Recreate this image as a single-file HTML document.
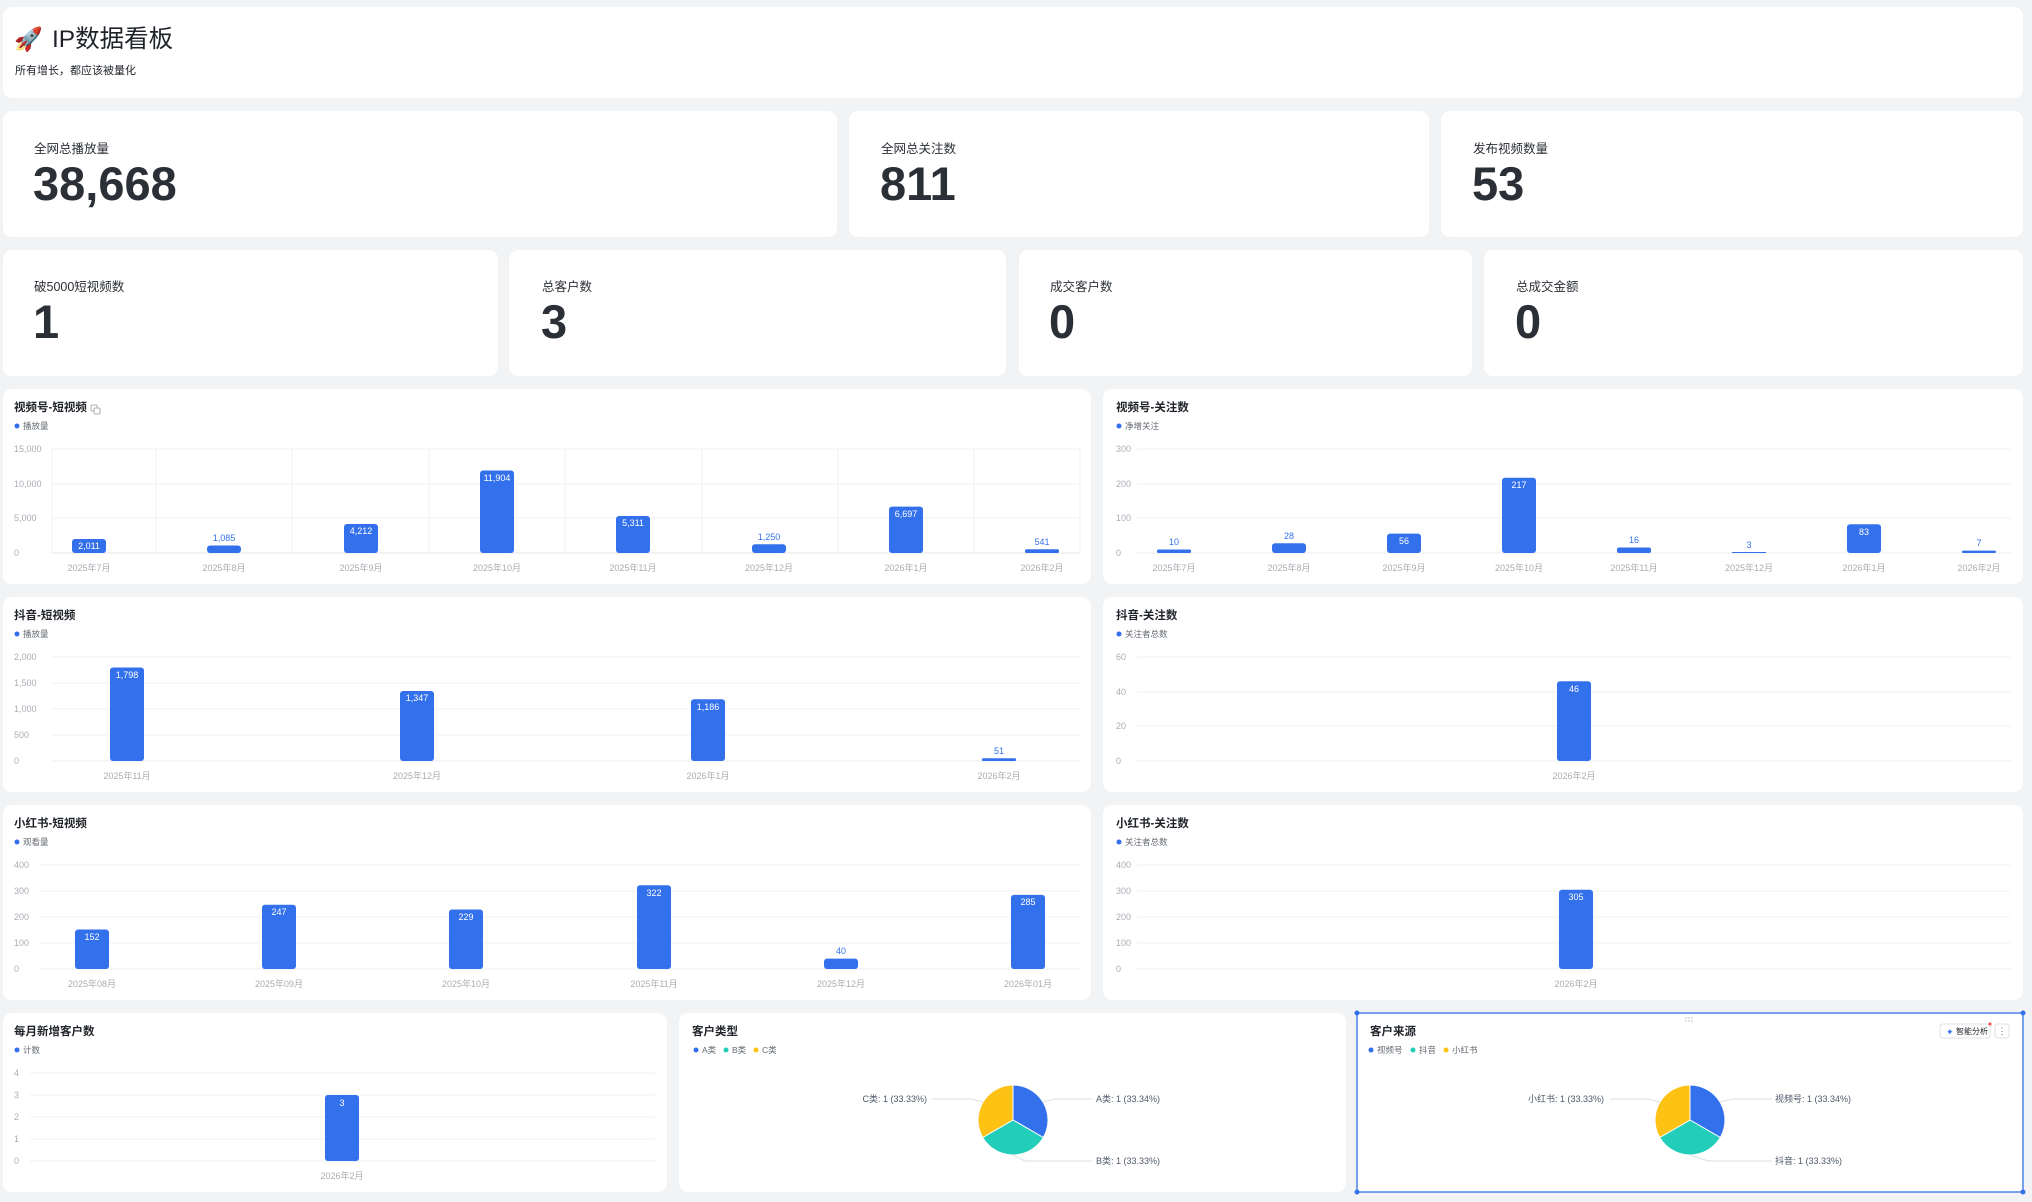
<!DOCTYPE html>
<html><head><meta charset="utf-8"><style>
html,body{margin:0;padding:0;background:#f2f3f5;}
svg{display:block;font-family:"Liberation Sans","Noto Sans CJK SC",sans-serif;}
.card{fill:#fff;}
.t{font-size:11.5px;font-weight:bold;fill:#1f2329;}
.lg{font-size:8.5px;fill:#646a73;}
.tk{font-size:9px;fill:#a8adb4;}
.xl{font-size:9px;fill:#a8adb4;text-anchor:middle;}
.g{stroke:#f0f1f3;stroke-width:1;}
.b{fill:#3370eb;}
.vi{font-size:9px;fill:#fff;text-anchor:middle;}
.vo{font-size:9px;fill:#3370eb;text-anchor:middle;}
.kl{font-size:12.5px;fill:#2b2f36;}
.kn{font-size:47px;font-weight:bold;fill:#2b2f36;}
.pl{font-size:9px;fill:#4e5969;}
.ll{stroke:#dcdee2;fill:none;stroke-width:1;}
</style></head><body>
<svg width="2032" height="1202" viewBox="0 0 2032 1202" xmlns="http://www.w3.org/2000/svg">
<rect width="2032" height="1202" fill="#f2f3f5"/>
<rect class="card" x="3" y="7" width="2020" height="91" rx="9"/>
<text x="14" y="47" font-size="23">🚀</text>
<text x="52" y="47" font-size="24.5" fill="#1f2329">IP数据看板</text>
<text x="15" y="74" font-size="11" fill="#1f2329">所有增长，都应该被量化</text>
<rect class="card" x="3" y="111" width="834" height="126" rx="9"/>
<rect class="card" x="849" y="111" width="580" height="126" rx="9"/>
<rect class="card" x="1441" y="111" width="582" height="126" rx="9"/>
<text class="kl" x="34" y="153">全网总播放量</text><text class="kn" x="33" y="200">38,668</text>
<text class="kl" x="881" y="153">全网总关注数</text><text class="kn" x="880" y="200">811</text>
<text class="kl" x="1473" y="153">发布视频数量</text><text class="kn" x="1472" y="200">53</text>
<rect class="card" x="3" y="250" width="495" height="126" rx="9"/>
<rect class="card" x="509" y="250" width="497" height="126" rx="9"/>
<rect class="card" x="1019" y="250" width="453" height="126" rx="9"/>
<rect class="card" x="1484" y="250" width="539" height="126" rx="9"/>
<text class="kl" x="34" y="291">破5000短视频数</text><text class="kn" x="33" y="338">1</text>
<text class="kl" x="542" y="291">总客户数</text><text class="kn" x="541" y="338">3</text>
<text class="kl" x="1050" y="291">成交客户数</text><text class="kn" x="1049" y="338">0</text>
<text class="kl" x="1516" y="291">总成交金额</text><text class="kn" x="1515" y="338">0</text>

<rect class="card" x="3" y="389" width="1088" height="195" rx="9"/>
<text class="t" x="14" y="411">视频号-短视频</text>
<rect x="91" y="405" width="6" height="6" fill="none" stroke="#999" stroke-width="0.8" rx="1"/><rect x="94" y="408" width="6" height="6" fill="#fff" stroke="#999" stroke-width="0.8" rx="1"/>
<circle cx="17" cy="426" r="2.5" fill="#3370eb"/><text class="lg" x="23" y="429">播放量</text>
<g class="g"><line x1="52" x2="1080" y1="449" y2="449"/><line x1="52" x2="1080" y1="484" y2="484"/><line x1="52" x2="1080" y1="518" y2="518"/>
<line x1="52" x2="52" y1="449" y2="553"/><line x1="156" x2="156" y1="449" y2="553"/><line x1="292" x2="292" y1="449" y2="553"/><line x1="429" x2="429" y1="449" y2="553"/><line x1="565" x2="565" y1="449" y2="553"/><line x1="702" x2="702" y1="449" y2="553"/><line x1="838" x2="838" y1="449" y2="553"/><line x1="974" x2="974" y1="449" y2="553"/><line x1="1080" x2="1080" y1="449" y2="553"/></g>
<line x1="52" x2="1080" y1="553" y2="553" stroke="#e4e5e7"/>
<text class="tk" x="14" y="452">15,000</text><text class="tk" x="14" y="487">10,000</text><text class="tk" x="14" y="521">5,000</text><text class="tk" x="14" y="556">0</text>
<rect class="b" x="72" y="539" width="34" height="14" rx="3"/><text class="vi" x="89" y="549">2,011</text>
<rect class="b" x="207" y="545.5" width="34" height="7.5" rx="3"/><text class="vo" x="224" y="541">1,085</text>
<rect class="b" x="344" y="524" width="34" height="29" rx="3"/><text class="vi" x="361" y="534">4,212</text>
<rect class="b" x="480" y="470.5" width="34" height="82.5" rx="3"/><text class="vi" x="497" y="481">11,904</text>
<rect class="b" x="616" y="516" width="34" height="37" rx="3"/><text class="vi" x="633" y="526">5,311</text>
<rect class="b" x="752" y="544.3" width="34" height="8.7" rx="3"/><text class="vo" x="769" y="540">1,250</text>
<rect class="b" x="889" y="506.6" width="34" height="46.4" rx="3"/><text class="vi" x="906" y="517">6,697</text>
<rect class="b" x="1025" y="549.2" width="34" height="3.8" rx="1.5"/><text class="vo" x="1042" y="545">541</text>
<text class="xl" x="89" y="571">2025年7月</text><text class="xl" x="224" y="571">2025年8月</text><text class="xl" x="361" y="571">2025年9月</text><text class="xl" x="497" y="571">2025年10月</text><text class="xl" x="633" y="571">2025年11月</text><text class="xl" x="769" y="571">2025年12月</text><text class="xl" x="906" y="571">2026年1月</text><text class="xl" x="1042" y="571">2026年2月</text>

<rect class="card" x="1103" y="389" width="920" height="195" rx="9"/>
<text class="t" x="1116" y="411">视频号-关注数</text>
<circle cx="1119" cy="426" r="2.5" fill="#3370eb"/><text class="lg" x="1125" y="429">净增关注</text>
<g class="g"><line x1="1137" x2="2011" y1="449" y2="449"/><line x1="1137" x2="2011" y1="484" y2="484"/><line x1="1137" x2="2011" y1="518" y2="518"/></g>
<line x1="1137" x2="2011" y1="553" y2="553" stroke="#eceef0"/>
<text class="tk" x="1116" y="452">300</text><text class="tk" x="1116" y="487">200</text><text class="tk" x="1116" y="521">100</text><text class="tk" x="1116" y="556">0</text>
<rect class="b" x="1157" y="549.5" width="34" height="3.5" rx="1.5"/><text class="vo" x="1174" y="545">10</text>
<rect class="b" x="1272" y="543.3" width="34" height="9.7" rx="3"/><text class="vo" x="1289" y="539">28</text>
<rect class="b" x="1387" y="533.6" width="34" height="19.4" rx="3"/><text class="vi" x="1404" y="544">56</text>
<rect class="b" x="1502" y="477.8" width="34" height="75.2" rx="3"/><text class="vi" x="1519" y="488">217</text>
<rect class="b" x="1617" y="547.5" width="34" height="5.5" rx="2"/><text class="vo" x="1634" y="543">16</text>
<rect class="b" x="1732" y="552" width="34" height="1"/><text class="vo" x="1749" y="548">3</text>
<rect class="b" x="1847" y="524.2" width="34" height="28.8" rx="3"/><text class="vi" x="1864" y="535">83</text>
<rect class="b" x="1962" y="550.6" width="34" height="2.4" rx="1"/><text class="vo" x="1979" y="546">7</text>
<text class="xl" x="1174" y="571">2025年7月</text><text class="xl" x="1289" y="571">2025年8月</text><text class="xl" x="1404" y="571">2025年9月</text><text class="xl" x="1519" y="571">2025年10月</text><text class="xl" x="1634" y="571">2025年11月</text><text class="xl" x="1749" y="571">2025年12月</text><text class="xl" x="1864" y="571">2026年1月</text><text class="xl" x="1979" y="571">2026年2月</text>

<rect class="card" x="3" y="597" width="1088" height="195" rx="9"/>
<text class="t" x="14" y="619">抖音-短视频</text>
<circle cx="17" cy="634" r="2.5" fill="#3370eb"/><text class="lg" x="23" y="637">播放量</text>
<g class="g"><line x1="52" x2="1080" y1="657" y2="657"/><line x1="52" x2="1080" y1="683" y2="683"/><line x1="52" x2="1080" y1="709" y2="709"/><line x1="52" x2="1080" y1="735" y2="735"/></g>
<line x1="52" x2="1080" y1="761" y2="761" stroke="#eceef0"/>
<text class="tk" x="14" y="660">2,000</text><text class="tk" x="14" y="686">1,500</text><text class="tk" x="14" y="712">1,000</text><text class="tk" x="14" y="738">500</text><text class="tk" x="14" y="764">0</text>
<rect class="b" x="110" y="667.5" width="34" height="93.5" rx="3"/><text class="vi" x="127" y="678">1,798</text>
<rect class="b" x="400" y="691" width="34" height="70" rx="3"/><text class="vi" x="417" y="701">1,347</text>
<rect class="b" x="691" y="699.3" width="34" height="61.7" rx="3"/><text class="vi" x="708" y="710">1,186</text>
<rect class="b" x="982" y="758.3" width="34" height="2.7" rx="1"/><text class="vo" x="999" y="754">51</text>
<text class="xl" x="127" y="779">2025年11月</text><text class="xl" x="417" y="779">2025年12月</text><text class="xl" x="708" y="779">2026年1月</text><text class="xl" x="999" y="779">2026年2月</text>

<rect class="card" x="1103" y="597" width="920" height="195" rx="9"/>
<text class="t" x="1116" y="619">抖音-关注数</text>
<circle cx="1119" cy="634" r="2.5" fill="#3370eb"/><text class="lg" x="1125" y="637">关注者总数</text>
<g class="g"><line x1="1137" x2="2011" y1="657" y2="657"/><line x1="1137" x2="2011" y1="692" y2="692"/><line x1="1137" x2="2011" y1="726" y2="726"/></g>
<line x1="1137" x2="2011" y1="761" y2="761" stroke="#eceef0"/>
<text class="tk" x="1116" y="660">60</text><text class="tk" x="1116" y="695">40</text><text class="tk" x="1116" y="729">20</text><text class="tk" x="1116" y="764">0</text>
<rect class="b" x="1557" y="681.3" width="34" height="79.7" rx="3"/><text class="vi" x="1574" y="692">46</text>
<text class="xl" x="1574" y="779">2026年2月</text>

<rect class="card" x="3" y="805" width="1088" height="195" rx="9"/>
<text class="t" x="14" y="827">小红书-短视频</text>
<circle cx="17" cy="842" r="2.5" fill="#3370eb"/><text class="lg" x="23" y="845">观看量</text>
<g class="g"><line x1="40" x2="1080" y1="865" y2="865"/><line x1="40" x2="1080" y1="891" y2="891"/><line x1="40" x2="1080" y1="917" y2="917"/><line x1="40" x2="1080" y1="943" y2="943"/></g>
<line x1="40" x2="1080" y1="969" y2="969" stroke="#eceef0"/>
<text class="tk" x="14" y="868">400</text><text class="tk" x="14" y="894">300</text><text class="tk" x="14" y="920">200</text><text class="tk" x="14" y="946">100</text><text class="tk" x="14" y="972">0</text>
<rect class="b" x="75" y="929.5" width="34" height="39.5" rx="3"/><text class="vi" x="92" y="940">152</text>
<rect class="b" x="262" y="904.8" width="34" height="64.2" rx="3"/><text class="vi" x="279" y="915">247</text>
<rect class="b" x="449" y="909.5" width="34" height="59.5" rx="3"/><text class="vi" x="466" y="920">229</text>
<rect class="b" x="637" y="885.3" width="34" height="83.7" rx="3"/><text class="vi" x="654" y="896">322</text>
<rect class="b" x="824" y="958.6" width="34" height="10.4" rx="3"/><text class="vo" x="841" y="954">40</text>
<rect class="b" x="1011" y="894.9" width="34" height="74.1" rx="3"/><text class="vi" x="1028" y="905">285</text>
<text class="xl" x="92" y="987">2025年08月</text><text class="xl" x="279" y="987">2025年09月</text><text class="xl" x="466" y="987">2025年10月</text><text class="xl" x="654" y="987">2025年11月</text><text class="xl" x="841" y="987">2025年12月</text><text class="xl" x="1028" y="987">2026年01月</text>

<rect class="card" x="1103" y="805" width="920" height="195" rx="9"/>
<text class="t" x="1116" y="827">小红书-关注数</text>
<circle cx="1119" cy="842" r="2.5" fill="#3370eb"/><text class="lg" x="1125" y="845">关注者总数</text>
<g class="g"><line x1="1137" x2="2011" y1="865" y2="865"/><line x1="1137" x2="2011" y1="891" y2="891"/><line x1="1137" x2="2011" y1="917" y2="917"/><line x1="1137" x2="2011" y1="943" y2="943"/></g>
<line x1="1137" x2="2011" y1="969" y2="969" stroke="#eceef0"/>
<text class="tk" x="1116" y="868">400</text><text class="tk" x="1116" y="894">300</text><text class="tk" x="1116" y="920">200</text><text class="tk" x="1116" y="946">100</text><text class="tk" x="1116" y="972">0</text>
<rect class="b" x="1559" y="889.7" width="34" height="79.3" rx="3"/><text class="vi" x="1576" y="900">305</text>
<text class="xl" x="1576" y="987">2026年2月</text>

<rect class="card" x="3" y="1013" width="664" height="179" rx="9"/>
<text class="t" x="14" y="1035">每月新增客户数</text>
<circle cx="17" cy="1050" r="2.5" fill="#3370eb"/><text class="lg" x="23" y="1053">计数</text>
<g class="g"><line x1="30" x2="655" y1="1073" y2="1073"/><line x1="30" x2="655" y1="1095" y2="1095"/><line x1="30" x2="655" y1="1117" y2="1117"/><line x1="30" x2="655" y1="1139" y2="1139"/></g>
<line x1="30" x2="655" y1="1161" y2="1161" stroke="#eceef0"/>
<text class="tk" x="14" y="1076">4</text><text class="tk" x="14" y="1098">3</text><text class="tk" x="14" y="1120">2</text><text class="tk" x="14" y="1142">1</text><text class="tk" x="14" y="1164">0</text>
<rect class="b" x="325" y="1095" width="34" height="66" rx="3"/><text class="vi" x="342" y="1106">3</text>
<text class="xl" x="342" y="1179">2026年2月</text>

<rect class="card" x="679" y="1013" width="667" height="179" rx="9"/>
<text class="t" x="692" y="1035">客户类型</text>
<circle cx="696" cy="1050" r="2.5" fill="#3370eb"/><text class="lg" x="702" y="1053">A类</text>
<circle cx="726" cy="1050" r="2.5" fill="#22cdb9"/><text class="lg" x="732" y="1053">B类</text>
<circle cx="756" cy="1050" r="2.5" fill="#fdc213"/><text class="lg" x="762" y="1053">C类</text>
<path d="M1013,1120 L1013,1085 A35,35 0 0 1 1043.3,1137.5 Z" fill="#3370eb" stroke="#fff" stroke-width="1"/>
<path d="M1013,1120 L1043.3,1137.5 A35,35 0 0 1 982.7,1137.5 Z" fill="#22cdb9" stroke="#fff" stroke-width="1"/>
<path d="M1013,1120 L982.7,1137.5 A35,35 0 0 1 1013,1085 Z" fill="#fdc213" stroke="#fff" stroke-width="1"/>
<polyline class="ll" points="1043,1102 1055,1099 1092,1099"/>
<polyline class="ll" points="1013,1155 1025,1161 1092,1161"/>
<polyline class="ll" points="983,1102 971,1099 932,1099"/>
<text class="pl" x="1096" y="1102">A类: 1 (33.34%)</text>
<text class="pl" x="1096" y="1164">B类: 1 (33.33%)</text>
<text class="pl" x="927" y="1102" text-anchor="end">C类: 1 (33.33%)</text>

<rect class="card" x="1357" y="1013" width="666" height="179"/>
<rect x="1357" y="1013" width="666" height="179" fill="none" stroke="#3370eb" stroke-width="1.3"/>
<circle cx="1357" cy="1013" r="2.5" fill="#3370eb"/><circle cx="2023" cy="1013" r="2.5" fill="#3370eb"/><circle cx="1357" cy="1192" r="2.5" fill="#3370eb"/><circle cx="2023" cy="1192" r="2.5" fill="#3370eb"/>
<g fill="#b0b4ba"><circle cx="1686" cy="1018" r="0.7"/><circle cx="1689" cy="1018" r="0.7"/><circle cx="1692" cy="1018" r="0.7"/><circle cx="1686" cy="1021" r="0.7"/><circle cx="1689" cy="1021" r="0.7"/><circle cx="1692" cy="1021" r="0.7"/></g>
<text class="t" x="1370" y="1035" font-weight="normal">客户来源</text>
<rect x="1940" y="1024" width="50" height="14" rx="3" fill="#fff" stroke="#dee0e3"/>
<text x="1946" y="1035" font-size="9" fill="#3370eb">✦</text><text x="1956" y="1034" font-size="8" fill="#1f2329">智能分析</text>
<circle cx="1990" cy="1024" r="1.5" fill="#f54a45"/>
<rect x="1995" y="1024" width="14" height="14" rx="3" fill="#fff" stroke="#dee0e3"/>
<text x="2002" y="1034" font-size="9" fill="#646a73" text-anchor="middle">⋮</text>
<circle cx="1371" cy="1050" r="2.5" fill="#3370eb"/><text class="lg" x="1377" y="1053">视频号</text>
<circle cx="1413" cy="1050" r="2.5" fill="#22cdb9"/><text class="lg" x="1419" y="1053">抖音</text>
<circle cx="1446" cy="1050" r="2.5" fill="#fdc213"/><text class="lg" x="1452" y="1053">小红书</text>
<path d="M1690,1120 L1690,1085 A35,35 0 0 1 1720.3,1137.5 Z" fill="#3370eb" stroke="#fff" stroke-width="1"/>
<path d="M1690,1120 L1720.3,1137.5 A35,35 0 0 1 1659.7,1137.5 Z" fill="#22cdb9" stroke="#fff" stroke-width="1"/>
<path d="M1690,1120 L1659.7,1137.5 A35,35 0 0 1 1690,1085 Z" fill="#fdc213" stroke="#fff" stroke-width="1"/>
<polyline class="ll" points="1720,1102 1732,1099 1772,1099"/>
<polyline class="ll" points="1690,1155 1708,1161 1772,1161"/>
<polyline class="ll" points="1660,1102 1648,1099 1610,1099"/>
<text class="pl" x="1775" y="1102">视频号: 1 (33.34%)</text>
<text class="pl" x="1775" y="1164">抖音: 1 (33.33%)</text>
<text class="pl" x="1604" y="1102" text-anchor="end">小红书: 1 (33.33%)</text>
</svg>
</body></html>
